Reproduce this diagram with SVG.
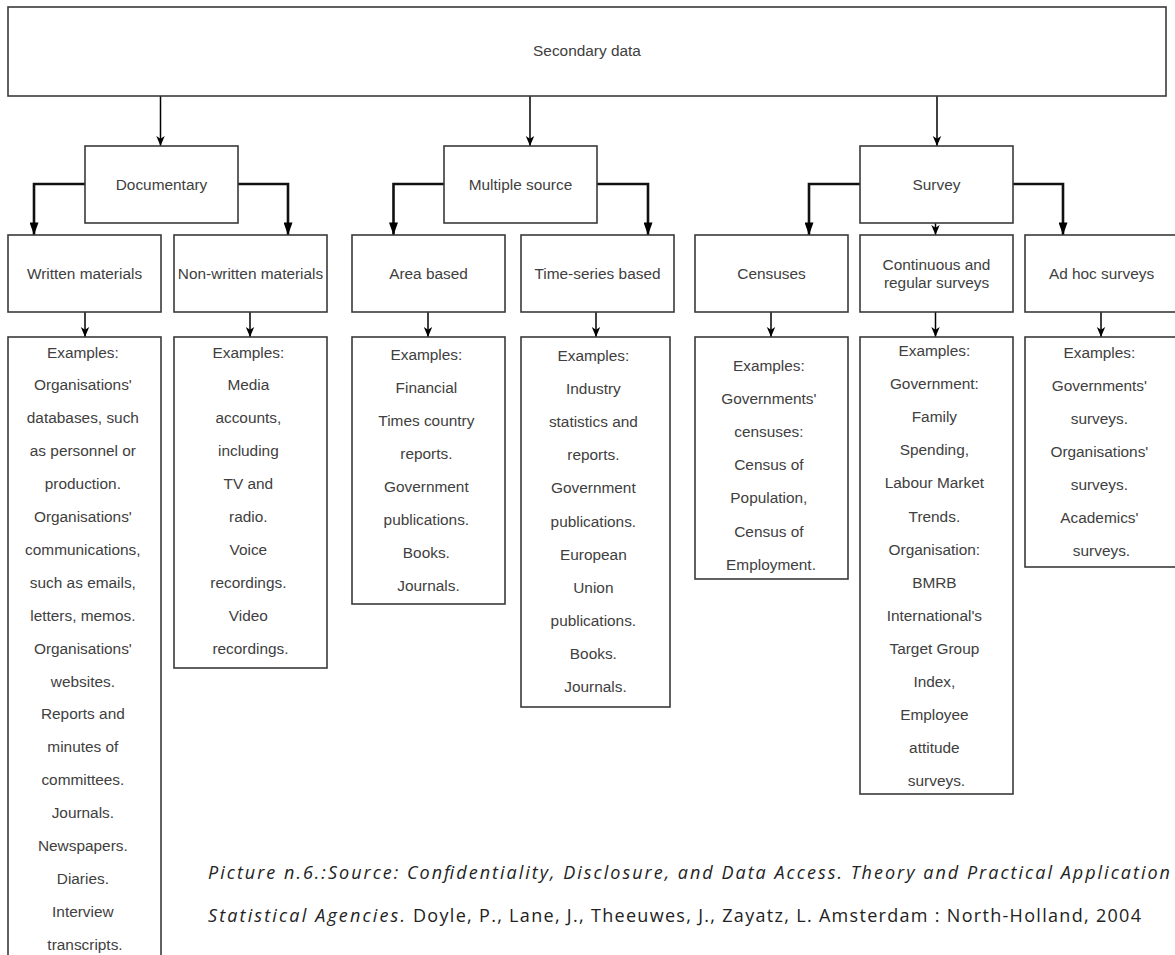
<svg xmlns="http://www.w3.org/2000/svg" width="1175" height="955" viewBox="0 0 1175 955">
<style>
.box{fill:#fff;stroke:#3a3a3a;stroke-width:1.6}
.t{font-family:"Liberation Sans",Arial,sans-serif;font-size:15.4px;fill:#404040;text-anchor:middle}
.c{fill:none;stroke:#000;stroke-width:1.5}
.cb{fill:none;stroke:#111;stroke-width:2.6}
.cap{font-family:"Open Sans","DejaVu Sans",sans-serif;font-size:18px;fill:#222}
</style>
<defs>
<marker id="arr" viewBox="0 0 10 10" refX="10" refY="5" markerWidth="10" markerHeight="10" markerUnits="userSpaceOnUse" orient="auto"><path d="M0,0.8 L10,5 L0,9.2 L2.8,5 z" fill="#000"/></marker>
<marker id="arrB" viewBox="0 0 14 10" refX="14" refY="5" markerWidth="14" markerHeight="9" markerUnits="userSpaceOnUse" orient="auto"><path d="M0,0 L14,5 L0,10 z" fill="#000"/></marker>
</defs>
<rect width="1175" height="955" fill="#fff"/>

<g id="connectors">
<path class="c" d="M160.5,96 V146" marker-end="url(#arr)"/>
<path class="c" d="M530,96 V146" marker-end="url(#arr)"/>
<path class="c" d="M937,96 V146" marker-end="url(#arr)"/>
<path class="cb" d="M85,184 H34 V235" marker-end="url(#arrB)"/>
<path class="cb" d="M238,184 H288 V235" marker-end="url(#arrB)"/>
<path class="cb" d="M444,184 H393.5 V235" marker-end="url(#arrB)"/>
<path class="cb" d="M597,184 H648 V235" marker-end="url(#arrB)"/>
<path class="cb" d="M860,184 H809 V235" marker-end="url(#arrB)"/>
<path class="cb" d="M1013,184 H1063 V235" marker-end="url(#arrB)"/>
<path class="c" d="M935.5,223 V235" marker-end="url(#arr)"/>
<path class="c" d="M85,312 V337" marker-end="url(#arr)"/>
<path class="c" d="M250,312 V337" marker-end="url(#arr)"/>
<path class="c" d="M428,312 V337" marker-end="url(#arr)"/>
<path class="c" d="M596,312 V337" marker-end="url(#arr)"/>
<path class="c" d="M771,312 V337" marker-end="url(#arr)"/>
<path class="c" d="M935.5,312 V337" marker-end="url(#arr)"/>
<path class="c" d="M1101,312 V337" marker-end="url(#arr)"/>
</g>

<g id="secondary-data"><rect class="box" x="8" y="7" width="1158" height="89"/><text class="t" x="587" y="56">Secondary data</text></g>

<g id="documentary"><rect class="box" x="85" y="146" width="153" height="77"/><text class="t" x="161.5" y="189.5">Documentary</text></g>
<g id="multiple-source"><rect class="box" x="444" y="146" width="153" height="77"/><text class="t" x="520.5" y="189.5">Multiple source</text></g>
<g id="survey"><rect class="box" x="860" y="146" width="153" height="77"/><text class="t" x="936.5" y="189.5">Survey</text></g>

<g id="written"><rect class="box" x="8" y="235" width="153" height="77"/><text class="t" x="84.5" y="279">Written materials</text></g>
<g id="non-written"><rect class="box" x="174" y="235" width="153" height="77"/><text class="t" x="250.5" y="279">Non-written materials</text></g>
<g id="area"><rect class="box" x="352" y="235" width="153" height="77"/><text class="t" x="428.5" y="279">Area based</text></g>
<g id="time-series"><rect class="box" x="521" y="235" width="153" height="77"/><text class="t" x="597.5" y="279">Time-series based</text></g>
<g id="censuses"><rect class="box" x="695" y="235" width="153" height="77"/><text class="t" x="771.5" y="279">Censuses</text></g>
<g id="continuous"><rect class="box" x="860" y="235" width="153" height="77"/><text class="t" x="936.5" y="270">Continuous and</text><text class="t" x="936.5" y="287.5">regular surveys</text></g>
<g id="adhoc"><rect class="box" x="1025" y="235" width="153" height="77"/><text class="t" x="1101.5" y="279">Ad hoc surveys</text></g>

<g id="written-examples"><rect class="box" x="8" y="337" width="153" height="625"/>
<text class="t" x="85">
<tspan x="85" y="357.5">Examples:</tspan>
<tspan x="85" y="390.4">Organisations'</tspan>
<tspan x="85" y="423.3">databases, such</tspan>
<tspan x="85" y="456.2">as personnel or</tspan>
<tspan x="85" y="489.1">production.</tspan>
<tspan x="85" y="522">Organisations'</tspan>
<tspan x="85" y="554.9">communications,</tspan>
<tspan x="85" y="587.8">such as emails,</tspan>
<tspan x="85" y="620.7">letters, memos.</tspan>
<tspan x="85" y="653.6">Organisations'</tspan>
<tspan x="85" y="686.5">websites.</tspan>
<tspan x="85" y="719.4">Reports and</tspan>
<tspan x="85" y="752.3">minutes of</tspan>
<tspan x="85" y="785.2">committees.</tspan>
<tspan x="85" y="818.1">Journals.</tspan>
<tspan x="85" y="851">Newspapers.</tspan>
<tspan x="85" y="883.9">Diaries.</tspan>
<tspan x="85" y="916.8">Interview</tspan>
<tspan x="85" y="949.7">transcripts.</tspan>
</text></g>

<g id="non-written-examples"><rect class="box" x="174" y="337" width="153" height="331"/>
<text class="t">
<tspan x="250.5" y="357.5">Examples:</tspan>
<tspan x="250.5" y="390.4">Media</tspan>
<tspan x="250.5" y="423.3">accounts,</tspan>
<tspan x="250.5" y="456.2">including</tspan>
<tspan x="250.5" y="489.1">TV and</tspan>
<tspan x="250.5" y="522">radio.</tspan>
<tspan x="250.5" y="554.9">Voice</tspan>
<tspan x="250.5" y="587.8">recordings.</tspan>
<tspan x="250.5" y="620.7">Video</tspan>
<tspan x="250.5" y="653.6">recordings.</tspan>
</text></g>

<g id="area-examples"><rect class="box" x="352" y="337" width="153" height="267"/>
<text class="t">
<tspan x="428.5" y="359.5">Examples:</tspan>
<tspan x="428.5" y="392.6">Financial</tspan>
<tspan x="428.5" y="425.7">Times country</tspan>
<tspan x="428.5" y="458.8">reports.</tspan>
<tspan x="428.5" y="491.9">Government</tspan>
<tspan x="428.5" y="525">publications.</tspan>
<tspan x="428.5" y="558.1">Books.</tspan>
<tspan x="428.5" y="591.2">Journals.</tspan>
</text></g>

<g id="time-series-examples"><rect class="box" x="521" y="337" width="149" height="370"/>
<text class="t">
<tspan x="595.5" y="361">Examples:</tspan>
<tspan x="595.5" y="394.1">Industry</tspan>
<tspan x="595.5" y="427.2">statistics and</tspan>
<tspan x="595.5" y="460.3">reports.</tspan>
<tspan x="595.5" y="493.4">Government</tspan>
<tspan x="595.5" y="526.5">publications.</tspan>
<tspan x="595.5" y="559.6">European</tspan>
<tspan x="595.5" y="592.7">Union</tspan>
<tspan x="595.5" y="625.8">publications.</tspan>
<tspan x="595.5" y="658.9">Books.</tspan>
<tspan x="595.5" y="692">Journals.</tspan>
</text></g>

<g id="censuses-examples"><rect class="box" x="695" y="337" width="153" height="242"/>
<text class="t">
<tspan x="771" y="371">Examples:</tspan>
<tspan x="771" y="404.1">Governments'</tspan>
<tspan x="771" y="437.2">censuses:</tspan>
<tspan x="771" y="470.3">Census of</tspan>
<tspan x="771" y="503.4">Population,</tspan>
<tspan x="771" y="536.5">Census of</tspan>
<tspan x="771" y="569.6">Employment.</tspan>
</text></g>

<g id="continuous-examples"><rect class="box" x="860" y="337" width="153" height="457"/>
<text class="t">
<tspan x="936.5" y="356">Examples:</tspan>
<tspan x="936.5" y="389.1">Government:</tspan>
<tspan x="936.5" y="422.2">Family</tspan>
<tspan x="936.5" y="455.3">Spending,</tspan>
<tspan x="936.5" y="488.4">Labour Market</tspan>
<tspan x="936.5" y="521.5">Trends.</tspan>
<tspan x="936.5" y="554.6">Organisation:</tspan>
<tspan x="936.5" y="587.7">BMRB</tspan>
<tspan x="936.5" y="620.8">International's</tspan>
<tspan x="936.5" y="653.9">Target Group</tspan>
<tspan x="936.5" y="687">Index,</tspan>
<tspan x="936.5" y="720.1">Employee</tspan>
<tspan x="936.5" y="753.2">attitude</tspan>
<tspan x="936.5" y="786.3">surveys.</tspan>
</text></g>

<g id="adhoc-examples"><rect class="box" x="1025" y="337" width="153" height="230"/>
<text class="t">
<tspan x="1101.5" y="357.5">Examples:</tspan>
<tspan x="1101.5" y="390.6">Governments'</tspan>
<tspan x="1101.5" y="423.7">surveys.</tspan>
<tspan x="1101.5" y="456.8">Organisations'</tspan>
<tspan x="1101.5" y="489.9">surveys.</tspan>
<tspan x="1101.5" y="523">Academics'</tspan>
<tspan x="1101.5" y="556.1">surveys.</tspan>
</text></g>

<g id="caption">
<text class="cap" x="208" y="879" font-style="italic" textLength="962" lengthAdjust="spacing">Picture n.6.:Source: Confidentiality, Disclosure, and Data Access. Theory and Practical Application</text>
<text class="cap" x="208" y="922" font-style="italic" textLength="197" lengthAdjust="spacing">Statistical Agencies.</text>
<text class="cap" x="413" y="922" textLength="728" lengthAdjust="spacing">Doyle, P., Lane, J., Theeuwes, J., Zayatz, L. Amsterdam : North-Holland, 2004</text>
</g>
</svg>
